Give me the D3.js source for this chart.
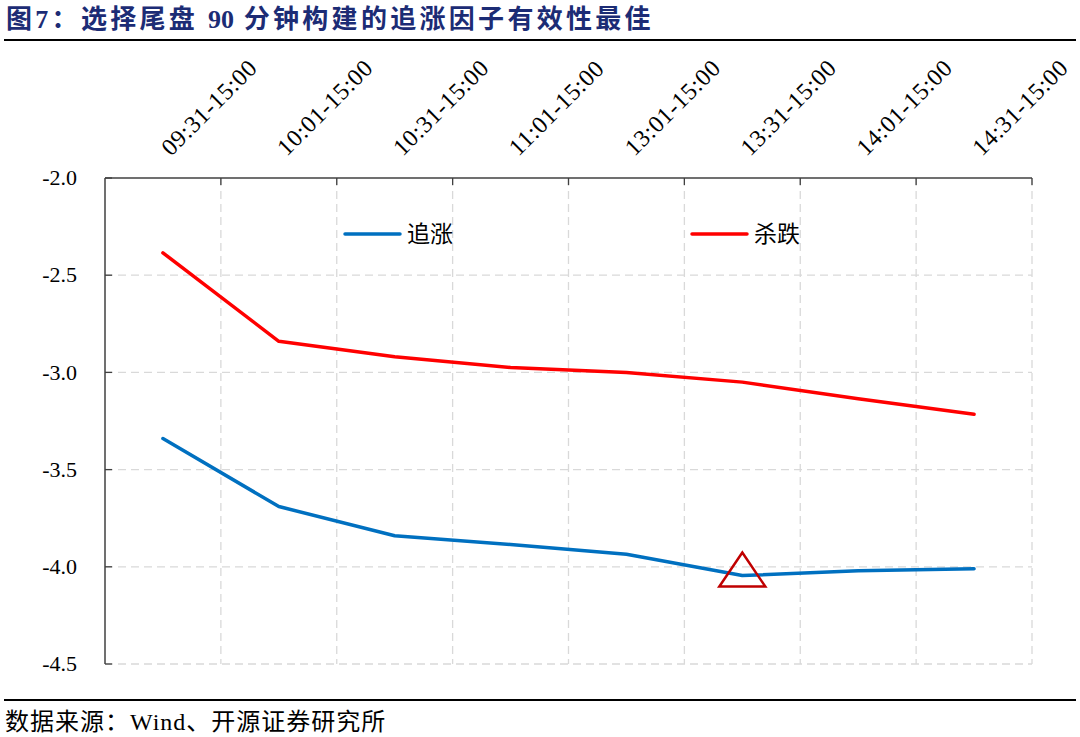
<!DOCTYPE html>
<html>
<head>
<meta charset="utf-8">
<script src="https://cdn.jsdelivr.net/npm/d3@7"></script>
<style>
  body { margin: 0; background: #fff; }
  svg text { font-family: "Liberation Serif", "Noto Sans CJK SC", serif; }
</style>
</head>
<body>
<script>
const categories = ['09:31-15:00', '10:01-15:00', '10:31-15:00', '11:01-15:00',
  '13:01-15:00', '13:31-15:00', '14:01-15:00', '14:31-15:00'];
const chaseValues = [-3.34, -3.69, -3.84, -3.885, -3.935, -4.045, -4.02, -4.01];
const killValues = [-2.385, -2.84, -2.92, -2.975, -3.0, -3.05, -3.135, -3.215];
const yTicks = [-2.0, -2.5, -3.0, -3.5, -4.0, -4.5];
const seriesNames = ['追涨', '杀跌'];
const bestIndex = 5; // triangle marks best window

const w = 1080, h = 737;
const plotLeft = 105, plotRight = 1032, plotTop = 178, plotBottom = 664;

const svg = d3.select("body").append("svg")
  .attr("width", w)
  .attr("height", h);

// title + rules
const title = svg.append("text")
  .attr("x", 6)
  .attr("y", 28)
  .attr("font-size", 26)
  .attr("font-weight", "bold")
  .attr("fill", "#1c2c75");
[["图7：选择尾盘 ", 3.3], ["90", 0], [" 分钟构建的追涨因子有效性最佳", 3.3]].forEach(p => {
  title.append("tspan").attr("letter-spacing", p[1]).text(p[0]);
});
svg.append("line")
  .attr("x1", 4).attr("x2", 1076).attr("y1", 40).attr("y2", 40)
  .attr("stroke", "#000").attr("stroke-width", 2);
svg.append("line")
  .attr("x1", 4).attr("x2", 1076).attr("y1", 700).attr("y2", 700)
  .attr("stroke", "#000").attr("stroke-width", 2);
svg.append("text")
  .attr("x", 5)
  .attr("y", 730)
  .attr("font-size", 24)
  .attr("letter-spacing", 1)
  .attr("fill", "#000")
  .text("数据来源：Wind、开源证券研究所");

let xScale = d3.scaleBand()
  .domain(categories)
  .range([plotLeft, plotRight]);
let yScale = d3.scaleLinear()
  .domain([-2.0, -4.5])
  .range([plotTop, plotBottom]);

const bw = xScale.bandwidth();

// grid
const grid = svg.append("g");
grid.selectAll("line.h")
  .data(yTicks.slice(1))
  .enter()
  .append("line")
  .attr("x1", plotLeft).attr("x2", plotRight)
  .attr("y1", d => yScale(d)).attr("y2", d => yScale(d))
  .attr("stroke", "#d9d9d9")
  .attr("stroke-width", 1.3)
  .attr("stroke-dasharray", "8,5");
grid.selectAll("line.v")
  .data(categories)
  .enter()
  .append("line")
  .attr("x1", d => xScale(d) + bw).attr("x2", d => xScale(d) + bw)
  .attr("y1", plotTop).attr("y2", plotBottom)
  .attr("stroke", "#d9d9d9")
  .attr("stroke-width", 1.3)
  .attr("stroke-dasharray", "8,5");

// top axis
svg.append("line")
  .attr("x1", plotLeft).attr("x2", plotRight).attr("y1", plotTop).attr("y2", plotTop)
  .attr("stroke", "#404040").attr("stroke-width", 1.5);
svg.selectAll("line.xt")
  .data(categories)
  .enter()
  .append("line")
  .attr("x1", d => xScale(d) + bw).attr("x2", d => xScale(d) + bw)
  .attr("y1", plotTop).attr("y2", plotTop + 7)
  .attr("stroke", "#404040").attr("stroke-width", 1.3);
svg.selectAll("text.xl")
  .data(categories)
  .enter()
  .append("text")
  .attr("transform", d => `translate(${xScale(d) + bw / 2 + 8},${157}) rotate(-45)`)
  .attr("font-size", 24)
  .attr("letter-spacing", 0.6)
  .attr("fill", "#000")
  .text(d => d);

// left axis
svg.append("line")
  .attr("x1", plotLeft).attr("x2", plotLeft).attr("y1", plotTop).attr("y2", plotBottom)
  .attr("stroke", "#404040").attr("stroke-width", 1.5);
svg.selectAll("line.yt")
  .data(yTicks)
  .enter()
  .append("line")
  .attr("x1", plotLeft).attr("x2", plotLeft + 7)
  .attr("y1", d => yScale(d)).attr("y2", d => yScale(d))
  .attr("stroke", "#404040").attr("stroke-width", 1.3);
svg.selectAll("text.yl")
  .data(yTicks)
  .enter()
  .append("text")
  .attr("x", 77)
  .attr("y", d => yScale(d))
  .attr("dy", "0.33em")
  .attr("text-anchor", "end")
  .attr("font-size", 22)
  .attr("fill", "#000")
  .text(d => d.toFixed(1));

// lines
const line = d3.line()
  .x((d, i) => xScale(categories[i]) + bw / 2)
  .y(d => yScale(d));

svg.append("path")
  .datum(killValues)
  .attr("d", line)
  .attr("fill", "none")
  .attr("stroke", "#ff0000")
  .attr("stroke-width", 3.5)
  .attr("stroke-linejoin", "round")
  .attr("stroke-linecap", "round");
svg.append("path")
  .datum(chaseValues)
  .attr("d", line)
  .attr("fill", "none")
  .attr("stroke", "#0070c0")
  .attr("stroke-width", 3.5)
  .attr("stroke-linejoin", "round")
  .attr("stroke-linecap", "round");

// triangle marker
const tx = xScale(categories[bestIndex]) + bw / 2;
const ty = yScale(chaseValues[bestIndex]);
svg.append("path")
  .attr("d", `M${tx},${ty - 23} L${tx + 23},${ty + 11} L${tx - 23},${ty + 11} Z`)
  .attr("fill", "none")
  .attr("stroke", "#c00000")
  .attr("stroke-width", 2.5);

// legend
const legendData = [
  { name: seriesNames[0], color: "#0070c0", x: 345 },
  { name: seriesNames[1], color: "#ff0000", x: 692 }
];
const lg = svg.append("g");
lg.selectAll("line")
  .data(legendData)
  .enter()
  .append("line")
  .attr("x1", d => d.x).attr("x2", d => d.x + 55)
  .attr("y1", 234).attr("y2", 234)
  .attr("stroke", d => d.color)
  .attr("stroke-width", 3.5)
  .attr("stroke-linecap", "round");
lg.selectAll("text")
  .data(legendData)
  .enter()
  .append("text")
  .attr("x", d => d.x + 62)
  .attr("y", 234)
  .attr("dy", "0.36em")
  .attr("font-size", 23)
  .attr("fill", "#000")
  .text(d => d.name);
</script>
</body>
</html>
